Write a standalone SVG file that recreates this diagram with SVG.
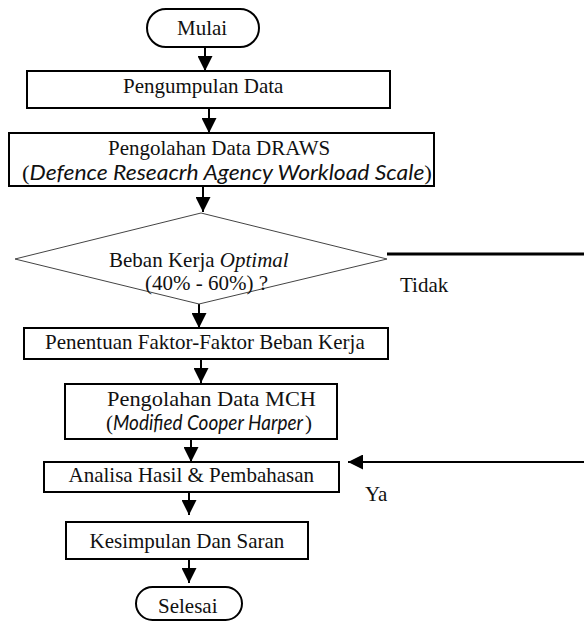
<svg xmlns="http://www.w3.org/2000/svg" width="584" height="622" viewBox="0 0 584 622">
<defs>
<marker id="ah" markerWidth="15" markerHeight="15" refX="15" refY="7.5" orient="auto" markerUnits="userSpaceOnUse">
<path d="M0,0 L15,7.5 L0,15 z" fill="#000"/>
</marker>
<style>
.box{fill:#fff;stroke:#000;stroke-width:2}
.dia{fill:#fff;stroke:#444;stroke-width:1}
.t{font-family:"Liberation Serif","Times New Roman",serif;font-size:21px;fill:#111}
.it{font-family:"Lato","Liberation Sans",sans-serif;font-style:italic}
.ti{font-style:italic}
.con{stroke:#000;stroke-width:2;fill:none}
</style>
</defs>
<rect width="584" height="622" fill="#fff"/>

<g id="connectors">
<line class="con" x1="205" y1="47" x2="205" y2="71" marker-end="url(#ah)"/>
<line class="con" x1="209" y1="108" x2="209" y2="133" marker-end="url(#ah)"/>
<line class="con" x1="203" y1="186" x2="203" y2="212" marker-end="url(#ah)"/>
<line class="con" x1="199" y1="304" x2="199" y2="328" marker-end="url(#ah)"/>
<line class="con" x1="201" y1="359" x2="201" y2="383" marker-end="url(#ah)"/>
<line class="con" x1="191" y1="439" x2="191" y2="462" marker-end="url(#ah)"/>
<line class="con" x1="189" y1="492" x2="189" y2="515" marker-end="url(#ah)"/>
<line class="con" x1="189" y1="559" x2="189" y2="583" marker-end="url(#ah)"/>
<line x1="387" y1="254" x2="584" y2="254" stroke="#000" stroke-width="3"/>
<line class="con" x1="584" y1="462" x2="348" y2="462" marker-end="url(#ah)"/>
<text class="t" x="400" y="292">Tidak</text>
<text class="t" x="365" y="501">Ya</text>
</g>

<g id="mulai">
<rect class="box" x="147" y="9" width="112" height="38" rx="19"/>
<text class="t" x="177" y="35">Mulai</text>
</g>

<g id="pengumpulan">
<rect class="box" x="27" y="71" width="363" height="37"/>
<text class="t" x="123" y="93">Pengumpulan Data</text>
</g>

<g id="draws">
<rect class="box" x="9" y="133" width="425" height="53"/>
<text class="t" x="108" y="155">Pengolahan Data DRAWS</text>
<text class="t" x="22" y="179.5" textLength="410" lengthAdjust="spacingAndGlyphs">(<tspan class="it">Defence Reseacrh Agency Workload Scale</tspan>)</text>
</g>

<g id="decision">
<polygon class="dia" points="201,213 387,259 199,304 15,259"/>
<text class="t" x="109" y="266.7">Beban Kerja <tspan class="ti">Optimal</tspan></text>
<text class="t" x="145" y="290">(40% - 60%) ?</text>
</g>

<g id="penentuan">
<rect class="box" x="24" y="328" width="364" height="31"/>
<text class="t" x="45" y="349">Penentuan Faktor-Faktor Beban Kerja</text>
</g>

<g id="mch">
<rect class="box" x="65" y="384" width="272" height="55"/>
<text class="t" x="107" y="406" textLength="209" lengthAdjust="spacingAndGlyphs">Pengolahan Data MCH</text>
<text class="t" x="106" y="429.7">(<tspan class="it" textLength="190" lengthAdjust="spacingAndGlyphs">Modified Cooper Harper</tspan><tspan dx="2">)</tspan></text>
</g>

<g id="analisa">
<rect class="box" x="44" y="462" width="295" height="30"/>
<text class="t" x="68.5" y="481.7">Analisa Hasil &amp; Pembahasan</text>
</g>

<g id="kesimpulan">
<rect class="box" x="66" y="522" width="242" height="37"/>
<text class="t" x="89.5" y="548">Kesimpulan Dan Saran</text>
</g>

<g id="selesai">
<rect class="box" x="136" y="587" width="106" height="33" rx="16.5"/>
<text class="t" x="158" y="613">Selesai</text>
</g>
</svg>
